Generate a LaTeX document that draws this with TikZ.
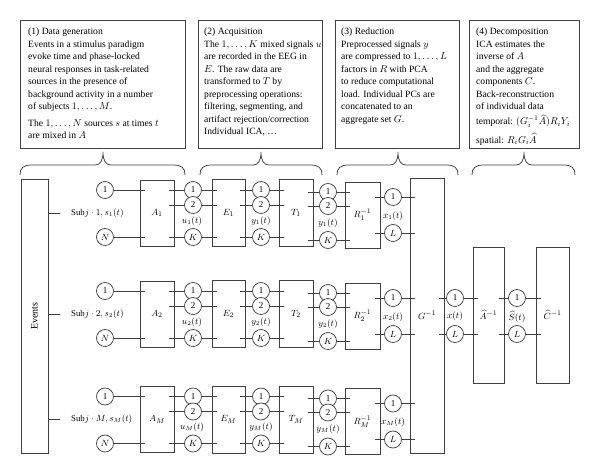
\documentclass[tikz,border=0pt]{standalone}
\usepackage{fontspec}
\setmainfont{Liberation Serif}
\usetikzlibrary{calc}
\newcommand{\drawbrace}[3]{%
  \draw[brc] (#1,175) .. controls (#1,168) and (#1+3,165) .. (#1+12,165)
    -- (#2-8,165) .. controls (#2-3,165) and (#2,161) .. (#2,152)
    .. controls (#2,161) and (#2+3,165) .. (#2+8,165)
    -- (#3-12,165) .. controls (#3-3,165) and (#3,168) .. (#3,175);}
\begin{document}
\begin{tikzpicture}[x=1pt,y=-1pt,
  ln/.style={draw=black!75, line width=0.75pt},
  blk/.style={draw=black!75, line width=0.75pt, rectangle, inner sep=0pt, font=\fontsize{9.5}{11}\selectfont},
  sig/.style={draw=black!75, line width=0.75pt, circle, minimum size=17pt, inner sep=0pt, fill=white, font=\fontsize{9}{10}\selectfont},
  lab/.style={font=\fontsize{8.8}{10}\selectfont, inner sep=0pt},
  desc/.style={anchor=north west, align=left, inner sep=0pt, font=\fontsize{9.6}{12.5}\selectfont},
  txtbox/.style={draw=black!75, line width=0.75pt, rectangle, inner sep=0pt, anchor=north west},
  brc/.style={draw=black!75, line width=0.75pt}
]
\useasboundingbox[fill=white] (0,0) rectangle (600,475);

% ---- description boxes ----
\node[txtbox, minimum width=165pt, minimum height=128pt] (b1) at (20,20) {};
\node[txtbox, minimum width=124pt, minimum height=128pt] (b2) at (198,20) {};
\node[txtbox, minimum width=124pt, minimum height=128pt] (b3) at (335,20) {};
\node[txtbox, minimum width=110pt, minimum height=128pt] (b4) at (469,20) {};

\node[desc] (t1) at ($(b1.north west)+(8,8)$) {(1) Data generation\\
Events in a stimulus paradigm\\
evoke time and phase-locked\\
neural responses in task-related\\
sources in the presence of\\
background activity in a number\\
of subjects $1,\ldots,M$.\\[4pt]
The $1,\ldots,N$ sources $s$ at times $t$\\
are mixed in $A$};

\node[desc] (t2) at ($(b2.north west)+(6,8)$) {(2) Acquisition\\
The $1,\ldots,K$ mixed signals $u$\\
are recorded in the EEG in\\
$E$. The raw data are\\
transformed to $T$ by\\
preprocessing operations:\\
filtering, segmenting, and\\
artifact rejection/correction\\
Individual ICA, \ldots};

\node[desc] (t3) at ($(b3.north west)+(6,8)$) {(3) Reduction\\
Preprocessed signals $y$\\
are compressed to $1,\ldots,L$\\
factors in $R$ with PCA\\
to reduce computational\\
load. Individual PCs are\\
concatenated to an\\
aggregate set $G$.};

\node[desc] (t4) at ($(b4.north west)+(7,8)$) {(4) Decomposition\\
ICA estimates the\\
inverse of $A$\\
and the aggregate\\
components $C$.\\
Back-reconstruction\\
of individual data\\[2.5pt]
temporal: $(G_i^{-1}\widehat{A})R_iY_i$\\[5pt]
spatial: $R_iG_i\widehat{A}$};

% ---- braces ----
\drawbrace{20}{103}{185}
\drawbrace{200}{261}{322}
\drawbrace{337}{398}{458}
\drawbrace{472}{524}{575}

% ---- events ----
\node[blk, minimum width=27pt, minimum height=274pt] (ev) at (34.5,316) {};
\node[lab, rotate=90, font=\fontsize{10}{11}\selectfont] (evl) at (ev.center) {Events};

% ---- subject rows ----
\foreach \r/\yc/\s in {1/213/1,2/314/2,3/419.5/M}{
  \coordinate (tk-\r) at (60,\yc);
  \draw[ln] (ev.east |- tk-\r) -- (tk-\r);
  \node[lab, anchor=west] (subj-\r) at (71,\yc) {Sub$j\cdot \s, s_{\s}(t)$};
  \node[sig] (s1-\r) at (105,\yc-23) {1};
  \node[sig] (sN-\r) at (105,\yc+24) {$N$};
  \node[blk, minimum width=34pt, minimum height=66pt] (A-\r) at (157,\yc) {$A_{\s}$};
  \node[blk, minimum width=33pt, minimum height=67pt] (E-\r) at (228.5,\yc) {$E_{\s}$};
  \node[blk, minimum width=34pt, minimum height=67pt] (T-\r) at (296,\yc) {$T_{\s}$};
  \node[blk, minimum width=35pt, minimum height=66pt] (R-\r) at (362.5,\yc+2) {$R_{\s}^{-1}$};
  % u
  \node[sig] (u1-\r) at (193,\yc-23) {1};
  \node[sig] (u2-\r) at (193,\yc-8) {2};
  \node[sig] (uK-\r) at (193,\yc+24) {$K$};
  \node[lab] (ul-\r) at (192,\yc+8) {$u_{\s}(t)$};
  % y (after E)
  \node[sig] (ya1-\r) at (261,\yc-23) {1};
  \node[sig] (ya2-\r) at (261,\yc-8) {2};
  \node[sig] (yaK-\r) at (261,\yc+24) {$K$};
  \node[lab] (yal-\r) at (261,\yc+8) {$y_{\s}(t)$};
  % y (after T)
  \node[sig] (yb1-\r) at (328,\yc-21) {1};
  \node[sig] (yb2-\r) at (328,\yc-7) {2};
  \node[sig] (ybK-\r) at (328,\yc+27) {$K$};
  \node[lab] (ybl-\r) at (328,\yc+10) {$y_{\s}(t)$};
  % x
  \node[sig] (x1-\r) at (393,\yc-16) {1};
  \node[sig] (xL-\r) at (393,\yc+20) {$L$};
  \node[lab] (xl-\r) at (393,\yc+3) {$x_{\s}(t)$};
  % lines
  \draw[ln] (s1-\r) -- ($(A-\r.west |- s1-\r)+(5,0)$);
  \draw[ln] (sN-\r) -- ($(A-\r.west |- sN-\r)+(5,0)$);
  \foreach \c in {1,2,K}{
    \draw[ln] ($(A-\r.east |- u\c-\r)+(-5,0)$) -- (u\c-\r) -- ($(E-\r.west |- u\c-\r)+(5,0)$);
    \draw[ln] ($(E-\r.east |- ya\c-\r)+(-5,0)$) -- (ya\c-\r) -- ($(T-\r.west |- ya\c-\r)+(5,0)$);
    \draw[ln] ($(T-\r.east |- yb\c-\r)+(-5,0)$) -- (yb\c-\r) -- ($(R-\r.west |- yb\c-\r)+(5,0)$);
  }
}

% ---- aggregate ----
\node[blk, minimum width=34pt, minimum height=275pt] (G) at (427,315.5) {$G^{-1}$};
\node[blk, minimum width=31pt, minimum height=136pt] (Ah) at (488.5,315) {$\widehat{A}^{-1}$};
\node[blk, minimum width=33pt, minimum height=136pt] (Ch) at (552.5,315) {$\widehat{C}^{-1}$};
\foreach \r in {1,2,3}{
  \foreach \c in {1,L}{
    \draw[ln] ($(R-\r.east |- x\c-\r)+(-5,0)$) -- (x\c-\r) -- ($(G.west |- x\c-\r)+(5,0)$);
  }
}
\node[sig] (xx1) at (455,298) {1};
\node[sig] (xxL) at (455,334) {$L$};
\node[lab] (xxl) at (455,316) {$x(t)$};
\node[sig] (S1) at (517,298) {1};
\node[sig] (SL) at (517,334) {$L$};
\node[lab] (Sl) at (517,317) {$\widehat{S}(t)$};
\foreach \c in {1,L}{
  \draw[ln] ($(G.east |- xx\c)+(-5,0)$) -- (xx\c) -- ($(Ah.west |- xx\c)+(5,0)$);
  \draw[ln] ($(Ah.east |- S\c)+(-5,0)$) -- (S\c) -- ($(Ch.west |- S\c)+(5,0)$);
}
\end{tikzpicture}
\end{document}
